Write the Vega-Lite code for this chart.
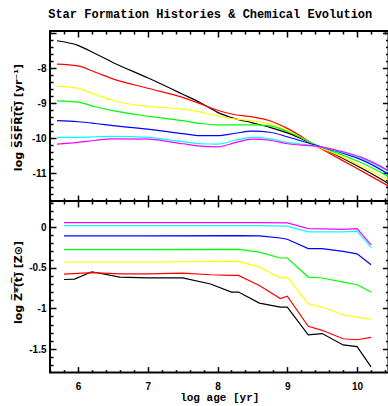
{
  "$schema": "https://vega.github.io/schema/vega-lite/v6.json",
  "padding": {"left": 11, "top": 8, "right": 0, "bottom": 0},
  "background": "white",
  "title": {"text": "Star Formation Histories & Chemical Evolution", "font": "Liberation Mono", "fontSize": 12, "fontWeight": "bold", "color": "black", "anchor": "middle", "frame": "group", "dx": -9, "offset": 6},
  "spacing": 0,
  "bounds": "flush",
  "datasets": {
    "ssfr": [
      {"model": "1", "logage": 5.7, "logssfr": -7.21}, {"model": "1", "logage": 6.0, "logssfr": -7.34}, {"model": "1", "logage": 6.25, "logssfr": -7.58}, {"model": "1", "logage": 6.5, "logssfr": -7.83}, {"model": "1", "logage": 7.0, "logssfr": -8.27}, {"model": "1", "logage": 7.5, "logssfr": -8.74}, {"model": "1", "logage": 7.75, "logssfr": -8.98}, {"model": "1", "logage": 8.0, "logssfr": -9.26}, {"model": "1", "logage": 8.25, "logssfr": -9.44}, {"model": "1", "logage": 8.5, "logssfr": -9.56}, {"model": "1", "logage": 8.75, "logssfr": -9.69}, {"model": "1", "logage": 9.0, "logssfr": -9.85}, {"model": "1", "logage": 9.4, "logssfr": -10.2}, {"model": "1", "logage": 9.8, "logssfr": -10.58}, {"model": "1", "logage": 10.1, "logssfr": -10.9}, {"model": "1", "logage": 10.45, "logssfr": -11.3},
      {"model": "2", "logage": 5.7, "logssfr": -7.88}, {"model": "2", "logage": 6.0, "logssfr": -7.93}, {"model": "2", "logage": 6.25, "logssfr": -8.11}, {"model": "2", "logage": 6.5, "logssfr": -8.3}, {"model": "2", "logage": 7.0, "logssfr": -8.57}, {"model": "2", "logage": 7.5, "logssfr": -8.83}, {"model": "2", "logage": 7.75, "logssfr": -9.01}, {"model": "2", "logage": 8.0, "logssfr": -9.2}, {"model": "2", "logage": 8.25, "logssfr": -9.33}, {"model": "2", "logage": 8.5, "logssfr": -9.39}, {"model": "2", "logage": 8.75, "logssfr": -9.5}, {"model": "2", "logage": 9.0, "logssfr": -9.72}, {"model": "2", "logage": 9.4, "logssfr": -10.2}, {"model": "2", "logage": 9.8, "logssfr": -10.65}, {"model": "2", "logage": 10.1, "logssfr": -10.98}, {"model": "2", "logage": 10.45, "logssfr": -11.37},
      {"model": "3", "logage": 5.7, "logssfr": -8.51}, {"model": "3", "logage": 6.0, "logssfr": -8.57}, {"model": "3", "logage": 6.25, "logssfr": -8.75}, {"model": "3", "logage": 6.5, "logssfr": -8.92}, {"model": "3", "logage": 7.0, "logssfr": -9.09}, {"model": "3", "logage": 7.5, "logssfr": -9.17}, {"model": "3", "logage": 7.75, "logssfr": -9.25}, {"model": "3", "logage": 8.0, "logssfr": -9.36}, {"model": "3", "logage": 8.25, "logssfr": -9.45}, {"model": "3", "logage": 8.5, "logssfr": -9.5}, {"model": "3", "logage": 8.75, "logssfr": -9.59}, {"model": "3", "logage": 9.0, "logssfr": -9.78}, {"model": "3", "logage": 9.4, "logssfr": -10.2}, {"model": "3", "logage": 9.8, "logssfr": -10.55}, {"model": "3", "logage": 10.1, "logssfr": -10.84}, {"model": "3", "logage": 10.45, "logssfr": -11.2},
      {"model": "4", "logage": 5.7, "logssfr": -8.93}, {"model": "4", "logage": 6.0, "logssfr": -8.97}, {"model": "4", "logage": 6.25, "logssfr": -9.1}, {"model": "4", "logage": 6.5, "logssfr": -9.21}, {"model": "4", "logage": 7.0, "logssfr": -9.37}, {"model": "4", "logage": 7.5, "logssfr": -9.5}, {"model": "4", "logage": 7.75, "logssfr": -9.58}, {"model": "4", "logage": 8.0, "logssfr": -9.62}, {"model": "4", "logage": 8.25, "logssfr": -9.62}, {"model": "4", "logage": 8.5, "logssfr": -9.62}, {"model": "4", "logage": 8.75, "logssfr": -9.65}, {"model": "4", "logage": 9.0, "logssfr": -9.81}, {"model": "4", "logage": 9.4, "logssfr": -10.18}, {"model": "4", "logage": 9.8, "logssfr": -10.49}, {"model": "4", "logage": 10.1, "logssfr": -10.74}, {"model": "4", "logage": 10.45, "logssfr": -11.1},
      {"model": "5", "logage": 5.7, "logssfr": -9.5}, {"model": "5", "logage": 6.0, "logssfr": -9.53}, {"model": "5", "logage": 6.25, "logssfr": -9.58}, {"model": "5", "logage": 6.5, "logssfr": -9.64}, {"model": "5", "logage": 7.0, "logssfr": -9.74}, {"model": "5", "logage": 7.5, "logssfr": -9.87}, {"model": "5", "logage": 7.75, "logssfr": -9.93}, {"model": "5", "logage": 8.0, "logssfr": -9.93}, {"model": "5", "logage": 8.25, "logssfr": -9.86}, {"model": "5", "logage": 8.5, "logssfr": -9.8}, {"model": "5", "logage": 8.75, "logssfr": -9.83}, {"model": "5", "logage": 9.0, "logssfr": -9.96}, {"model": "5", "logage": 9.4, "logssfr": -10.2}, {"model": "5", "logage": 9.8, "logssfr": -10.43}, {"model": "5", "logage": 10.1, "logssfr": -10.65}, {"model": "5", "logage": 10.45, "logssfr": -11.03},
      {"model": "6", "logage": 5.7, "logssfr": -9.98}, {"model": "6", "logage": 6.0, "logssfr": -9.98}, {"model": "6", "logage": 6.25, "logssfr": -9.96}, {"model": "6", "logage": 6.5, "logssfr": -9.95}, {"model": "6", "logage": 7.0, "logssfr": -9.98}, {"model": "6", "logage": 7.5, "logssfr": -10.1}, {"model": "6", "logage": 7.75, "logssfr": -10.16}, {"model": "6", "logage": 8.0, "logssfr": -10.17}, {"model": "6", "logage": 8.25, "logssfr": -10.06}, {"model": "6", "logage": 8.5, "logssfr": -9.98}, {"model": "6", "logage": 8.75, "logssfr": -10.02}, {"model": "6", "logage": 9.0, "logssfr": -10.12}, {"model": "6", "logage": 9.4, "logssfr": -10.22}, {"model": "6", "logage": 9.8, "logssfr": -10.41}, {"model": "6", "logage": 10.1, "logssfr": -10.6}, {"model": "6", "logage": 10.45, "logssfr": -10.96},
      {"model": "7", "logage": 5.7, "logssfr": -10.17}, {"model": "7", "logage": 6.0, "logssfr": -10.12}, {"model": "7", "logage": 6.25, "logssfr": -10.06}, {"model": "7", "logage": 6.5, "logssfr": -10.02}, {"model": "7", "logage": 7.0, "logssfr": -10.03}, {"model": "7", "logage": 7.5, "logssfr": -10.16}, {"model": "7", "logage": 7.75, "logssfr": -10.23}, {"model": "7", "logage": 8.0, "logssfr": -10.25}, {"model": "7", "logage": 8.25, "logssfr": -10.13}, {"model": "7", "logage": 8.5, "logssfr": -10.03}, {"model": "7", "logage": 8.75, "logssfr": -10.06}, {"model": "7", "logage": 9.0, "logssfr": -10.16}, {"model": "7", "logage": 9.4, "logssfr": -10.23}, {"model": "7", "logage": 9.8, "logssfr": -10.39}, {"model": "7", "logage": 10.1, "logssfr": -10.58}, {"model": "7", "logage": 10.45, "logssfr": -10.93}
    ],
    "zmet": [
      {"model": "1", "logage": 5.8, "logz": -0.645}, {"model": "1", "logage": 5.95, "logz": -0.64}, {"model": "1", "logage": 6.2, "logz": -0.55}, {"model": "1", "logage": 6.6, "logz": -0.615}, {"model": "1", "logage": 7.0, "logz": -0.625}, {"model": "1", "logage": 7.5, "logz": -0.625}, {"model": "1", "logage": 7.9, "logz": -0.7}, {"model": "1", "logage": 8.2, "logz": -0.8}, {"model": "1", "logage": 8.3, "logz": -0.8}, {"model": "1", "logage": 8.6, "logz": -0.935}, {"model": "1", "logage": 8.9, "logz": -0.985}, {"model": "1", "logage": 9.0, "logz": -0.985}, {"model": "1", "logage": 9.3, "logz": -1.325}, {"model": "1", "logage": 9.5, "logz": -1.31}, {"model": "1", "logage": 9.8, "logz": -1.45}, {"model": "1", "logage": 10.0, "logz": -1.47}, {"model": "1", "logage": 10.2, "logz": -1.72},
      {"model": "2", "logage": 5.8, "logz": -0.58}, {"model": "2", "logage": 6.2, "logz": -0.56}, {"model": "2", "logage": 6.6, "logz": -0.575}, {"model": "2", "logage": 7.0, "logz": -0.575}, {"model": "2", "logage": 7.5, "logz": -0.568}, {"model": "2", "logage": 7.9, "logz": -0.587}, {"model": "2", "logage": 8.2, "logz": -0.595}, {"model": "2", "logage": 8.3, "logz": -0.595}, {"model": "2", "logage": 8.6, "logz": -0.718}, {"model": "2", "logage": 8.9, "logz": -0.88}, {"model": "2", "logage": 9.0, "logz": -0.85}, {"model": "2", "logage": 9.3, "logz": -1.22}, {"model": "2", "logage": 9.5, "logz": -1.27}, {"model": "2", "logage": 9.8, "logz": -1.374}, {"model": "2", "logage": 10.0, "logz": -1.386}, {"model": "2", "logage": 10.2, "logz": -1.358},
      {"model": "3", "logage": 5.8, "logz": -0.43}, {"model": "3", "logage": 7.0, "logz": -0.43}, {"model": "3", "logage": 7.9, "logz": -0.425}, {"model": "3", "logage": 8.3, "logz": -0.423}, {"model": "3", "logage": 8.6, "logz": -0.49}, {"model": "3", "logage": 8.9, "logz": -0.627}, {"model": "3", "logage": 9.0, "logz": -0.62}, {"model": "3", "logage": 9.3, "logz": -0.943}, {"model": "3", "logage": 9.5, "logz": -0.984}, {"model": "3", "logage": 9.8, "logz": -1.079}, {"model": "3", "logage": 10.0, "logz": -1.107}, {"model": "3", "logage": 10.2, "logz": -1.136},
      {"model": "4", "logage": 5.8, "logz": -0.279}, {"model": "4", "logage": 7.0, "logz": -0.278}, {"model": "4", "logage": 8.3, "logz": -0.275}, {"model": "4", "logage": 8.6, "logz": -0.308}, {"model": "4", "logage": 8.9, "logz": -0.381}, {"model": "4", "logage": 9.0, "logz": -0.381}, {"model": "4", "logage": 9.3, "logz": -0.615}, {"model": "4", "logage": 9.5, "logz": -0.627}, {"model": "4", "logage": 9.8, "logz": -0.677}, {"model": "4", "logage": 10.0, "logz": -0.71}, {"model": "4", "logage": 10.2, "logz": -0.8},
      {"model": "5", "logage": 5.8, "logz": -0.11}, {"model": "5", "logage": 7.0, "logz": -0.11}, {"model": "5", "logage": 8.3, "logz": -0.105}, {"model": "5", "logage": 8.6, "logz": -0.11}, {"model": "5", "logage": 8.9, "logz": -0.135}, {"model": "5", "logage": 9.0, "logz": -0.15}, {"model": "5", "logage": 9.3, "logz": -0.265}, {"model": "5", "logage": 9.5, "logz": -0.265}, {"model": "5", "logage": 9.8, "logz": -0.3}, {"model": "5", "logage": 10.0, "logz": -0.33}, {"model": "5", "logage": 10.2, "logz": -0.465},
      {"model": "6", "logage": 5.8, "logz": 0.016}, {"model": "6", "logage": 8.3, "logz": 0.018}, {"model": "6", "logage": 8.6, "logz": 0.018}, {"model": "6", "logage": 9.0, "logz": 0.012}, {"model": "6", "logage": 9.3, "logz": -0.06}, {"model": "6", "logage": 9.5, "logz": -0.06}, {"model": "6", "logage": 9.8, "logz": -0.06}, {"model": "6", "logage": 10.0, "logz": -0.05}, {"model": "6", "logage": 10.2, "logz": -0.25},
      {"model": "7", "logage": 5.8, "logz": 0.053}, {"model": "7", "logage": 8.3, "logz": 0.055}, {"model": "7", "logage": 8.6, "logz": 0.055}, {"model": "7", "logage": 9.0, "logz": 0.05}, {"model": "7", "logage": 9.3, "logz": -0.02}, {"model": "7", "logage": 9.5, "logz": -0.022}, {"model": "7", "logage": 9.8, "logz": -0.03}, {"model": "7", "logage": 10.0, "logz": -0.02}, {"model": "7", "logage": 10.2, "logz": -0.22}
    ]
  },
  "vconcat": [
    {
      "width": 338.5,
      "height": 170,
      "data": {"name": "ssfr"},
      "layer": [
        {
          "mark": {"type": "line", "interpolate": "monotone", "strokeWidth": 1.2, "clip": true},
          "encoding": {
            "x": {"field": "logage", "type": "quantitative", "scale": {"domain": [5.6, 10.45], "nice": false, "zero": false},
              "axis": {"orient": "bottom", "values": [5.6,5.8,6,6.2,6.4,6.6,6.8,7,7.2,7.4,7.6,7.8,8,8.2,8.4,8.6,8.8,9,9.2,9.4,9.6,9.8,10,10.2,10.4], "labels": false, "title": null,
                "tickSize": {"condition": {"test": "abs(datum.value - round(datum.value)) < 0.01", "value": -6}, "value": -3}}},
            "y": {"field": "logssfr", "type": "quantitative", "scale": {"domain": [-11.8, -6.93], "nice": false, "zero": false},
              "axis": {"orient": "left", "values": [-11.8,-11.6,-11.4,-11.2,-11,-10.8,-10.6,-10.4,-10.2,-10,-9.8,-9.6,-9.4,-9.2,-9,-8.8,-8.6,-8.4,-8.2,-8,-7.8,-7.6,-7.4,-7.2,-7],
                "labelExpr": "abs(datum.value - round(datum.value)) < 0.01 && datum.value < -7.5 ? '' + round(datum.value) : ''",
                "labelPadding": 10,
                "tickSize": {"condition": {"test": "abs(datum.value - round(datum.value)) < 0.01", "value": -6}, "value": -3},
                "title": "log  S̅S̅F̅R̅(̅t̅)̅  [yr⁻¹]", "titleX": -29, "titleY": 86, "titleBaseline": "alphabetic"}},
            "color": {"field": "model", "type": "nominal", "scale": {"domain": ["1","2","3","4","5","6","7"], "range": ["#000000","#ff0000","#ffff00","#00ff00","#0000ff","#00ffff","#ff00ff"]}, "legend": null}
          }
        },
        {
          "mark": {"type": "line", "opacity": 0},
          "encoding": {
            "x": {"field": "logage", "type": "quantitative",
              "axis": {"orient": "top", "values": [5.6,5.8,6,6.2,6.4,6.6,6.8,7,7.2,7.4,7.6,7.8,8,8.2,8.4,8.6,8.8,9,9.2,9.4,9.6,9.8,10,10.2,10.4], "labels": false, "title": null,
                "tickSize": {"condition": {"test": "abs(datum.value - round(datum.value)) < 0.01", "value": -6}, "value": -3}}},
            "y": {"field": "logssfr", "type": "quantitative",
              "axis": {"orient": "right", "values": [-11.8,-11.6,-11.4,-11.2,-11,-10.8,-10.6,-10.4,-10.2,-10,-9.8,-9.6,-9.4,-9.2,-9,-8.8,-8.6,-8.4,-8.2,-8,-7.8,-7.6,-7.4,-7.2,-7], "labels": false, "title": null,
                "tickSize": {"condition": {"test": "abs(datum.value - round(datum.value)) < 0.01", "value": -6}, "value": -3}}},
            "detail": {"field": "model"}
          }
        }
      ],
      "resolve": {"axis": {"x": "independent", "y": "independent"}}
    },
    {
      "width": 338.5,
      "height": 171.6,
      "data": {"name": "zmet"},
      "layer": [
        {
          "mark": {"type": "line", "strokeWidth": 1.2, "clip": true},
          "encoding": {
            "x": {"field": "logage", "type": "quantitative", "scale": {"domain": [5.6, 10.45], "nice": false, "zero": false},
              "axis": {"orient": "bottom", "values": [5.6,5.8,6,6.2,6.4,6.6,6.8,7,7.2,7.4,7.6,7.8,8,8.2,8.4,8.6,8.8,9,9.2,9.4,9.6,9.8,10,10.2,10.4],
                "labelExpr": "abs(datum.value - round(datum.value)) < 0.01 ? '' + round(datum.value) : ''",
                "labelPadding": 15,
                "tickSize": {"condition": {"test": "abs(datum.value - round(datum.value)) < 0.01", "value": -6}, "value": -3},
                "title": "log age [yr]", "titleFont": "Liberation Mono", "titleFontSize": 11, "titleY": 28, "titleBaseline": "alphabetic"}},
            "y": {"field": "logz", "type": "quantitative", "scale": {"domain": [-1.79, 0.32], "nice": false, "zero": false},
              "axis": {"orient": "left", "values": [-1.7,-1.6,-1.5,-1.4,-1.3,-1.2,-1.1,-1,-0.9,-0.8,-0.7,-0.6,-0.5,-0.4,-0.3,-0.2,-0.1,0,0.1,0.2,0.3],
                "labelExpr": "abs(datum.value*2 - round(datum.value*2)) < 0.01 ? '' + (round(datum.value*10)/10) : ''",
                "labelPadding": 10,
                "tickSize": {"condition": {"test": "abs(datum.value*2 - round(datum.value*2)) < 0.01", "value": -6}, "value": -3},
                "title": "log  Z̅*̅(̅t̅)̅  [Z⊙]", "titleX": -29, "titleY": 81, "titleBaseline": "alphabetic"}},
            "color": {"field": "model", "type": "nominal", "scale": {"domain": ["1","2","3","4","5","6","7"], "range": ["#000000","#ff0000","#ffff00","#00ff00","#0000ff","#00ffff","#ff00ff"]}, "legend": null}
          }
        },
        {
          "mark": {"type": "line", "opacity": 0},
          "encoding": {
            "x": {"field": "logage", "type": "quantitative",
              "axis": {"orient": "top", "values": [5.6,5.8,6,6.2,6.4,6.6,6.8,7,7.2,7.4,7.6,7.8,8,8.2,8.4,8.6,8.8,9,9.2,9.4,9.6,9.8,10,10.2,10.4], "labels": false, "title": null,
                "tickSize": {"condition": {"test": "abs(datum.value - round(datum.value)) < 0.01", "value": -6}, "value": -3}}},
            "y": {"field": "logz", "type": "quantitative",
              "axis": {"orient": "right", "values": [-1.7,-1.6,-1.5,-1.4,-1.3,-1.2,-1.1,-1,-0.9,-0.8,-0.7,-0.6,-0.5,-0.4,-0.3,-0.2,-0.1,0,0.1,0.2,0.3], "labels": false, "title": null,
                "tickSize": {"condition": {"test": "abs(datum.value*2 - round(datum.value*2)) < 0.01", "value": -6}, "value": -3}}},
            "detail": {"field": "model"}
          }
        }
      ],
      "resolve": {"axis": {"x": "independent", "y": "independent"}}
    }
  ],
  "config": {
    "view": {"stroke": "black", "strokeWidth": 2},
    "axis": {"domain": false, "grid": false, "tickColor": "black", "tickWidth": 1.5, "labelFont": "Liberation Sans", "labelFontWeight": "bold", "labelFontSize": 10, "labelColor": "black", "labelOverlap": false, "labelFlush": false, "labelBound": false, "titleFont": "DejaVu Sans", "titleFontWeight": "bold", "titleFontSize": 11, "titleColor": "black"}
  }
}
